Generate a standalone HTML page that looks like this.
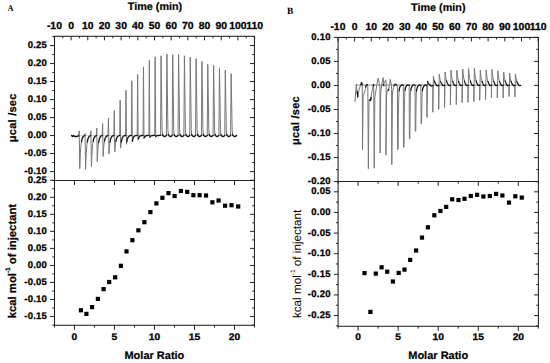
<!DOCTYPE html>
<html><head><meta charset="utf-8"><style>
html,body{margin:0;padding:0;background:#fff;width:550px;height:363px;overflow:hidden}
svg{display:block;text-rendering:geometricPrecision}
</style></head><body>
<svg width="550" height="363" viewBox="0 0 550 363" font-family='"Liberation Sans", sans-serif'>
<rect x="54.5" y="36.3" width="199.95" height="288.97999999999996" fill="none" stroke="#222" stroke-width="1.05"/>
<line x1="54.5" y1="180.44" x2="254.45" y2="180.44" stroke="#222" stroke-width="1.05"/>
<path d="M54.42 36.3v4 M62.76 36.3v2 M71.10 36.3v4 M79.44 36.3v2 M87.78 36.3v4 M96.12 36.3v2 M104.46 36.3v4 M112.80 36.3v2 M121.14 36.3v4 M129.48 36.3v2 M137.82 36.3v4 M146.16 36.3v2 M154.50 36.3v4 M162.84 36.3v2 M171.18 36.3v4 M179.52 36.3v2 M187.86 36.3v4 M196.20 36.3v2 M204.54 36.3v4 M212.88 36.3v2 M221.22 36.3v4 M229.56 36.3v2 M237.90 36.3v4 M246.24 36.3v2 M254.58 36.3v4 M54.5 180.56h-2.2 M254.45 180.56h-2.2 M54.5 171.56h-4.3 M254.45 171.56h-4.3 M54.5 162.56h-2.2 M254.45 162.56h-2.2 M54.5 153.56h-4.3 M254.45 153.56h-4.3 M54.5 144.56h-2.2 M254.45 144.56h-2.2 M54.5 135.56h-4.3 M254.45 135.56h-4.3 M54.5 126.56h-2.2 M254.45 126.56h-2.2 M54.5 117.56h-4.3 M254.45 117.56h-4.3 M54.5 108.56h-2.2 M254.45 108.56h-2.2 M54.5 99.56h-4.3 M254.45 99.56h-4.3 M54.5 90.56h-2.2 M254.45 90.56h-2.2 M54.5 81.56h-4.3 M254.45 81.56h-4.3 M54.5 72.56h-2.2 M254.45 72.56h-2.2 M54.5 63.56h-4.3 M254.45 63.56h-4.3 M54.5 54.56h-2.2 M254.45 54.56h-2.2 M54.5 45.56h-4.3 M254.45 45.56h-4.3 M54.5 36.56h-2.2 M254.45 36.56h-2.2 M54.5 325.08h-2.2 M254.45 325.08h-2.2 M54.5 316.56h-4.3 M254.45 316.56h-4.3 M54.5 308.04h-2.2 M254.45 308.04h-2.2 M54.5 299.52h-4.3 M254.45 299.52h-4.3 M54.5 291.00h-2.2 M254.45 291.00h-2.2 M54.5 282.48h-4.3 M254.45 282.48h-4.3 M54.5 273.96h-2.2 M254.45 273.96h-2.2 M54.5 265.44h-4.3 M254.45 265.44h-4.3 M54.5 256.92h-2.2 M254.45 256.92h-2.2 M54.5 248.40h-4.3 M254.45 248.40h-4.3 M54.5 239.88h-2.2 M254.45 239.88h-2.2 M54.5 231.36h-4.3 M254.45 231.36h-4.3 M54.5 222.84h-2.2 M254.45 222.84h-2.2 M54.5 214.32h-4.3 M254.45 214.32h-4.3 M54.5 205.80h-2.2 M254.45 205.80h-2.2 M54.5 197.28h-4.3 M254.45 197.28h-4.3 M54.5 188.76h-2.2 M254.45 188.76h-2.2 M54.5 180.24h-4.3 M254.45 180.24h-4.3 M54.42 325.28v2.3 M54.42 180.44v2.3 M74.43 325.28v4.5 M74.43 180.44v4.5 M94.44 325.28v2.3 M94.44 180.44v2.3 M114.46 325.28v4.5 M114.46 180.44v4.5 M134.47 325.28v2.3 M134.47 180.44v2.3 M154.48 325.28v4.5 M154.48 180.44v4.5 M174.49 325.28v2.3 M174.49 180.44v2.3 M194.51 325.28v4.5 M194.51 180.44v4.5 M214.52 325.28v2.3 M214.52 180.44v2.3 M234.53 325.28v4.5 M234.53 180.44v4.5 M254.54 325.28v2.3 M254.54 180.44v2.3" stroke="#222" stroke-width="1" fill="none"/>
<g font-size="10.4" font-weight="bold" fill="#000" stroke="#000" stroke-width="0.3"><text transform="translate(54.42 29.4) scale(1.02 1)" font-size="10.2" text-anchor="middle">-10</text><text transform="translate(71.10 29.4) scale(1.02 1)" font-size="10.2" text-anchor="middle">0</text><text transform="translate(87.78 29.4) scale(1.02 1)" font-size="10.2" text-anchor="middle">10</text><text transform="translate(104.46 29.4) scale(1.02 1)" font-size="10.2" text-anchor="middle">20</text><text transform="translate(121.14 29.4) scale(1.02 1)" font-size="10.2" text-anchor="middle">30</text><text transform="translate(137.82 29.4) scale(1.02 1)" font-size="10.2" text-anchor="middle">40</text><text transform="translate(154.50 29.4) scale(1.02 1)" font-size="10.2" text-anchor="middle">50</text><text transform="translate(171.18 29.4) scale(1.02 1)" font-size="10.2" text-anchor="middle">60</text><text transform="translate(187.86 29.4) scale(1.02 1)" font-size="10.2" text-anchor="middle">70</text><text transform="translate(204.54 29.4) scale(1.02 1)" font-size="10.2" text-anchor="middle">80</text><text transform="translate(221.22 29.4) scale(1.02 1)" font-size="10.2" text-anchor="middle">90</text><text transform="translate(237.90 29.4) scale(1.02 1)" font-size="10.2" text-anchor="middle">100</text><text transform="translate(254.58 29.4) scale(1.02 1)" font-size="10.2" text-anchor="middle">110</text><text transform="translate(47.15 174.06) scale(1.0 1)" font-size="9.5" letter-spacing="0.25" text-anchor="end">-0.10</text><text transform="translate(47.15 156.06) scale(1.0 1)" font-size="9.5" letter-spacing="0.25" text-anchor="end">-0.05</text><text transform="translate(47.15 138.06) scale(1.0 1)" font-size="9.5" letter-spacing="0.25" text-anchor="end">0.00</text><text transform="translate(47.15 120.06) scale(1.0 1)" font-size="9.5" letter-spacing="0.25" text-anchor="end">0.05</text><text transform="translate(47.15 102.06) scale(1.0 1)" font-size="9.5" letter-spacing="0.25" text-anchor="end">0.10</text><text transform="translate(47.15 84.06) scale(1.0 1)" font-size="9.5" letter-spacing="0.25" text-anchor="end">0.15</text><text transform="translate(47.15 66.06) scale(1.0 1)" font-size="9.5" letter-spacing="0.25" text-anchor="end">0.20</text><text transform="translate(47.15 48.06) scale(1.0 1)" font-size="9.5" letter-spacing="0.25" text-anchor="end">0.25</text><text transform="translate(47.15 319.06) scale(1.0 1)" font-size="9.5" letter-spacing="0.25" text-anchor="end">-0.15</text><text transform="translate(47.15 302.02) scale(1.0 1)" font-size="9.5" letter-spacing="0.25" text-anchor="end">-0.10</text><text transform="translate(47.15 284.98) scale(1.0 1)" font-size="9.5" letter-spacing="0.25" text-anchor="end">-0.05</text><text transform="translate(47.15 267.94) scale(1.0 1)" font-size="9.5" letter-spacing="0.25" text-anchor="end">0.00</text><text transform="translate(47.15 250.90) scale(1.0 1)" font-size="9.5" letter-spacing="0.25" text-anchor="end">0.05</text><text transform="translate(47.15 233.86) scale(1.0 1)" font-size="9.5" letter-spacing="0.25" text-anchor="end">0.10</text><text transform="translate(47.15 216.82) scale(1.0 1)" font-size="9.5" letter-spacing="0.25" text-anchor="end">0.15</text><text transform="translate(47.15 199.78) scale(1.0 1)" font-size="9.5" letter-spacing="0.25" text-anchor="end">0.20</text><text transform="translate(47.15 182.74) scale(1.0 1)" font-size="9.5" letter-spacing="0.25" text-anchor="end">0.25</text><text transform="translate(74.43 340.1) scale(1.065 1)" font-size="9.6" text-anchor="middle">0</text><text transform="translate(114.46 340.1) scale(1.065 1)" font-size="9.6" text-anchor="middle">5</text><text transform="translate(154.48 340.1) scale(1.065 1)" font-size="9.6" text-anchor="middle">10</text><text transform="translate(194.51 340.1) scale(1.065 1)" font-size="9.6" text-anchor="middle">15</text><text transform="translate(234.53 340.1) scale(1.065 1)" font-size="9.6" text-anchor="middle">20</text></g>
<rect x="338.1" y="37.45" width="200.29999999999995" height="288.83" fill="none" stroke="#222" stroke-width="1.05"/>
<line x1="338.1" y1="181.44" x2="538.4" y2="181.44" stroke="#222" stroke-width="1.05"/>
<path d="M337.91 37.45v4 M346.25 37.45v2 M354.60 37.45v4 M362.95 37.45v2 M371.29 37.45v4 M379.64 37.45v2 M387.98 37.45v4 M396.33 37.45v2 M404.67 37.45v4 M413.02 37.45v2 M421.36 37.45v4 M429.71 37.45v2 M438.05 37.45v4 M446.40 37.45v2 M454.74 37.45v4 M463.09 37.45v2 M471.43 37.45v4 M479.78 37.45v2 M488.12 37.45v4 M496.47 37.45v2 M504.81 37.45v4 M513.15 37.45v2 M521.50 37.45v4 M529.85 37.45v2 M538.19 37.45v4 M338.1 181.60h-4.3 M538.4 181.60h-4.3 M338.1 169.58h-2.2 M538.4 169.58h-2.2 M338.1 157.56h-4.3 M538.4 157.56h-4.3 M338.1 145.54h-2.2 M538.4 145.54h-2.2 M338.1 133.52h-4.3 M538.4 133.52h-4.3 M338.1 121.50h-2.2 M538.4 121.50h-2.2 M338.1 109.48h-4.3 M538.4 109.48h-4.3 M338.1 97.46h-2.2 M538.4 97.46h-2.2 M338.1 85.44h-4.3 M538.4 85.44h-4.3 M338.1 73.42h-2.2 M538.4 73.42h-2.2 M338.1 61.40h-4.3 M538.4 61.40h-4.3 M338.1 49.38h-2.2 M538.4 49.38h-2.2 M338.1 37.36h-4.3 M538.4 37.36h-4.3 M338.1 325.85h-2.2 M538.4 325.85h-2.2 M338.1 315.54h-4.3 M538.4 315.54h-4.3 M338.1 305.23h-2.2 M538.4 305.23h-2.2 M338.1 294.92h-4.3 M538.4 294.92h-4.3 M338.1 284.61h-2.2 M538.4 284.61h-2.2 M338.1 274.30h-4.3 M538.4 274.30h-4.3 M338.1 263.99h-2.2 M538.4 263.99h-2.2 M338.1 253.68h-4.3 M538.4 253.68h-4.3 M338.1 243.37h-2.2 M538.4 243.37h-2.2 M338.1 233.06h-4.3 M538.4 233.06h-4.3 M338.1 222.75h-2.2 M538.4 222.75h-2.2 M338.1 212.44h-4.3 M538.4 212.44h-4.3 M338.1 202.13h-2.2 M538.4 202.13h-2.2 M338.1 191.82h-4.3 M538.4 191.82h-4.3 M338.1 181.51h-2.2 M538.4 181.51h-2.2 M338.08 326.28v2.3 M338.08 181.44v2.3 M358.10 326.28v4.5 M358.10 181.44v4.5 M378.12 326.28v2.3 M378.12 181.44v2.3 M398.15 326.28v4.5 M398.15 181.44v4.5 M418.18 326.28v2.3 M418.18 181.44v2.3 M438.20 326.28v4.5 M438.20 181.44v4.5 M458.23 326.28v2.3 M458.23 181.44v2.3 M478.25 326.28v4.5 M478.25 181.44v4.5 M498.27 326.28v2.3 M498.27 181.44v2.3 M518.30 326.28v4.5 M518.30 181.44v4.5 M538.33 326.28v2.3 M538.33 181.44v2.3" stroke="#222" stroke-width="1" fill="none"/>
<g font-size="10.4" font-weight="bold" fill="#000" stroke="#000" stroke-width="0.3"><text transform="translate(337.91 30.4) scale(1.02 1)" font-size="10.2" text-anchor="middle">-10</text><text transform="translate(354.60 30.4) scale(1.02 1)" font-size="10.2" text-anchor="middle">0</text><text transform="translate(371.29 30.4) scale(1.02 1)" font-size="10.2" text-anchor="middle">10</text><text transform="translate(387.98 30.4) scale(1.02 1)" font-size="10.2" text-anchor="middle">20</text><text transform="translate(404.67 30.4) scale(1.02 1)" font-size="10.2" text-anchor="middle">30</text><text transform="translate(421.36 30.4) scale(1.02 1)" font-size="10.2" text-anchor="middle">40</text><text transform="translate(438.05 30.4) scale(1.02 1)" font-size="10.2" text-anchor="middle">50</text><text transform="translate(454.74 30.4) scale(1.02 1)" font-size="10.2" text-anchor="middle">60</text><text transform="translate(471.43 30.4) scale(1.02 1)" font-size="10.2" text-anchor="middle">70</text><text transform="translate(488.12 30.4) scale(1.02 1)" font-size="10.2" text-anchor="middle">80</text><text transform="translate(504.81 30.4) scale(1.02 1)" font-size="10.2" text-anchor="middle">90</text><text transform="translate(521.50 30.4) scale(1.02 1)" font-size="10.2" text-anchor="middle">100</text><text transform="translate(538.19 30.4) scale(1.02 1)" font-size="10.2" text-anchor="middle">110</text><text transform="translate(330.75 184.10) scale(1.0 1)" font-size="9.5" letter-spacing="0.25" text-anchor="end">-0.20</text><text transform="translate(330.75 160.06) scale(1.0 1)" font-size="9.5" letter-spacing="0.25" text-anchor="end">-0.15</text><text transform="translate(330.75 136.02) scale(1.0 1)" font-size="9.5" letter-spacing="0.25" text-anchor="end">-0.10</text><text transform="translate(330.75 111.98) scale(1.0 1)" font-size="9.5" letter-spacing="0.25" text-anchor="end">-0.05</text><text transform="translate(330.75 87.94) scale(1.0 1)" font-size="9.5" letter-spacing="0.25" text-anchor="end">0.00</text><text transform="translate(330.75 63.90) scale(1.0 1)" font-size="9.5" letter-spacing="0.25" text-anchor="end">0.05</text><text transform="translate(330.75 39.86) scale(1.0 1)" font-size="9.5" letter-spacing="0.25" text-anchor="end">0.10</text><text transform="translate(330.75 318.04) scale(1.0 1)" font-size="9.5" letter-spacing="0.25" text-anchor="end">-0.25</text><text transform="translate(330.75 297.42) scale(1.0 1)" font-size="9.5" letter-spacing="0.25" text-anchor="end">-0.20</text><text transform="translate(330.75 276.80) scale(1.0 1)" font-size="9.5" letter-spacing="0.25" text-anchor="end">-0.15</text><text transform="translate(330.75 256.18) scale(1.0 1)" font-size="9.5" letter-spacing="0.25" text-anchor="end">-0.10</text><text transform="translate(330.75 235.56) scale(1.0 1)" font-size="9.5" letter-spacing="0.25" text-anchor="end">-0.05</text><text transform="translate(330.75 214.94) scale(1.0 1)" font-size="9.5" letter-spacing="0.25" text-anchor="end">0.00</text><text transform="translate(330.75 194.32) scale(1.0 1)" font-size="9.5" letter-spacing="0.25" text-anchor="end">0.05</text><text transform="translate(358.10 340.1) scale(1.065 1)" font-size="9.6" text-anchor="middle">0</text><text transform="translate(398.15 340.1) scale(1.065 1)" font-size="9.6" text-anchor="middle">5</text><text transform="translate(438.20 340.1) scale(1.065 1)" font-size="9.6" text-anchor="middle">10</text><text transform="translate(478.25 340.1) scale(1.065 1)" font-size="9.6" text-anchor="middle">15</text><text transform="translate(518.30 340.1) scale(1.065 1)" font-size="9.6" text-anchor="middle">20</text></g>
<line x1="71.5" y1="135.3" x2="236.5" y2="135.3" stroke="#aaa" stroke-width="0.6"/><path d="M78.60 135.80 L79.25 130.80 L79.75 168.70 L80.10 159.26 L80.45 152.50 L80.80 147.65 L81.15 144.18 L81.50 141.69 M84.65 135.71 L85.09 133.40 L85.59 169.40 L85.94 159.76 L86.29 152.86 L86.64 147.91 L86.99 144.36 L87.34 141.82 M90.49 135.72 L90.93 130.80 L91.43 166.60 L91.78 157.76 L92.13 151.42 L92.48 146.88 L92.83 143.62 L93.18 141.29 M96.33 135.69 L96.77 128.10 L97.27 161.70 L97.62 154.24 L97.97 148.90 L98.32 145.08 L98.67 142.33 M102.17 135.65 L102.61 123.50 L103.11 156.40 L103.46 150.45 L103.81 146.18 L104.16 143.13 L104.51 140.94 M108.01 135.60 L108.45 118.10 L108.95 153.80 L109.30 148.58 L109.65 144.85 L110.00 142.17 M113.85 135.57 L114.29 110.50 L114.79 151.80 L115.14 147.15 L115.49 143.82 L115.84 141.43 M119.69 135.55 L120.13 100.20 L120.63 148.10 L120.98 144.50 L121.33 141.92 M125.53 135.52 L125.97 90.30 L126.47 144.20 L126.82 141.71 M131.37 135.48 L131.81 80.80 L132.31 141.40 M137.21 135.46 L137.65 74.50 L138.15 139.20 M143.05 135.44 L143.49 66.80 L143.99 138.00 M148.89 135.42 L149.33 60.40 L149.83 137.10 M154.73 135.42 L155.17 56.90 L155.67 136.60 M160.57 135.41 L161.06 55.80 L162.06 129.40 L162.46 134.40 M166.36 135.40 L166.90 54.00 L167.90 129.40 L168.30 134.40 M172.20 135.40 L172.74 54.70 L173.74 129.40 L174.14 134.40 M178.04 135.40 L178.58 54.40 L179.58 129.40 L179.98 134.40 M183.88 135.40 L184.42 55.80 L185.42 129.40 L185.82 134.40 M189.72 135.40 L190.26 57.10 L191.26 129.40 L191.66 134.40 M195.56 135.40 L196.10 58.70 L197.10 129.40 L197.50 134.40 M201.40 135.40 L201.94 61.50 L202.94 129.40 L203.34 134.40 M207.24 135.40 L207.78 64.30 L208.78 129.40 L209.18 134.40 M213.08 135.40 L213.62 65.40 L214.62 129.40 L215.02 134.40 M218.92 135.40 L219.46 68.40 L220.46 129.40 L220.86 134.40 M224.76 135.40 L225.30 70.00 L226.30 129.40 L226.70 134.40 M230.60 135.40 L231.14 73.60 L232.14 129.40 L232.54 134.40" fill="none" stroke="#777" stroke-width="1.0" stroke-linejoin="round"/><path d="M71.60 135.40 L72.40 136.60 L73.30 135.70 L74.30 136.10 L75.50 136.70 L76.60 136.50 L77.80 136.20 L78.60 135.80 M71.80 135.60 L72.40 136.40 L73.30 135.90 L74.30 136.30 L75.50 136.50 L76.60 136.60 L77.80 136.30 L78.40 136.00 M81.50 141.69 L81.85 139.91 L82.20 138.63 L82.55 137.71 L82.90 137.06 L83.25 136.59 L83.60 136.25 L83.95 136.01 L84.30 135.84 L84.65 135.71 M87.34 141.82 L87.69 140.00 L88.04 138.70 L88.39 137.76 L88.74 137.09 L89.09 136.61 L89.44 136.27 L89.79 136.02 L90.14 135.85 L90.49 135.72 M93.18 141.29 L93.53 139.62 L93.88 138.43 L94.23 137.57 L94.58 136.95 L94.93 136.51 L95.28 136.20 L95.63 135.97 L95.98 135.81 L96.33 135.69 M98.67 142.33 L99.02 140.37 L99.37 138.96 L99.72 137.95 L100.07 137.23 L100.42 136.71 L100.77 136.34 L101.12 136.07 L101.47 135.88 L101.82 135.75 L102.17 135.65 M104.51 140.94 L104.86 139.37 L105.21 138.24 L105.56 137.44 L105.91 136.86 L106.26 136.45 L106.61 136.15 L106.96 135.94 L107.31 135.78 L107.66 135.68 L108.01 135.60 M110.00 142.17 L110.35 140.25 L110.70 138.88 L111.05 137.89 L111.40 137.18 L111.75 136.68 L112.10 136.32 L112.45 136.06 L112.80 135.87 L113.15 135.74 L113.50 135.64 L113.85 135.57 M115.84 141.43 L116.19 139.72 L116.54 138.50 L116.89 137.62 L117.24 136.99 L117.59 136.54 L117.94 136.22 L118.29 135.99 L118.64 135.82 L118.99 135.70 L119.34 135.62 L119.69 135.55 M121.33 141.92 L121.68 140.07 L122.03 138.75 L122.38 137.80 L122.73 137.12 L123.08 136.63 L123.43 136.28 L123.78 136.03 L124.13 135.85 L124.48 135.72 L124.83 135.63 L125.18 135.57 L125.53 135.52 M126.82 141.71 L127.17 139.92 L127.52 138.64 L127.87 137.72 L128.22 137.06 L128.57 136.59 L128.92 136.25 L129.27 136.01 L129.62 135.84 L129.97 135.71 L130.32 135.62 L130.67 135.56 L131.02 135.52 L131.37 135.48 M132.31 141.40 L132.66 139.70 L133.01 138.48 L133.36 137.61 L133.71 136.98 L134.06 136.53 L134.41 136.21 L134.76 135.98 L135.11 135.82 L135.46 135.70 L135.81 135.61 L136.16 135.55 L136.51 135.51 L136.86 135.48 L137.21 135.46 M138.15 139.20 L138.50 138.12 L138.85 137.35 L139.20 136.80 L139.55 136.40 L139.90 136.12 L140.25 135.91 L140.60 135.77 L140.95 135.66 L141.30 135.59 L141.65 135.54 L142.00 135.50 L142.35 135.47 L142.70 135.45 L143.05 135.44 M143.99 138.00 L144.34 137.26 L144.69 136.73 L145.04 136.36 L145.39 136.09 L145.74 135.89 L146.09 135.75 L146.44 135.65 L146.79 135.58 L147.14 135.53 L147.49 135.49 L147.84 135.47 L148.19 135.45 L148.54 135.43 L148.89 135.42 M149.83 137.10 L150.18 136.62 L150.53 136.27 L150.88 136.03 L151.23 135.85 L151.58 135.72 L151.93 135.63 L152.28 135.56 L152.63 135.52 L152.98 135.48 L153.33 135.46 L153.68 135.44 L154.03 135.43 L154.38 135.42 L154.73 135.42 M155.67 136.60 L156.02 136.26 L156.37 136.02 L156.72 135.84 L157.07 135.72 L157.42 135.63 L157.77 135.56 L158.12 135.52 L158.47 135.48 L158.82 135.46 L159.17 135.44 L159.52 135.43 L159.87 135.42 L160.22 135.42 L160.57 135.41 M162.36 134.40 L162.86 135.50 L163.66 136.20 L164.46 136.60 L165.26 136.40 L165.96 135.80 L166.36 135.40 M168.20 134.40 L168.70 135.50 L169.50 136.20 L170.30 136.60 L171.10 136.40 L171.80 135.80 L172.20 135.40 M174.04 134.40 L174.54 135.50 L175.34 136.20 L176.14 136.60 L176.94 136.40 L177.64 135.80 L178.04 135.40 M179.88 134.40 L180.38 135.50 L181.18 136.20 L181.98 136.60 L182.78 136.40 L183.48 135.80 L183.88 135.40 M185.72 134.40 L186.22 135.50 L187.02 136.20 L187.82 136.60 L188.62 136.40 L189.32 135.80 L189.72 135.40 M191.56 134.40 L192.06 135.50 L192.86 136.20 L193.66 136.60 L194.46 136.40 L195.16 135.80 L195.56 135.40 M197.40 134.40 L197.90 135.50 L198.70 136.20 L199.50 136.60 L200.30 136.40 L201.00 135.80 L201.40 135.40 M203.24 134.40 L203.74 135.50 L204.54 136.20 L205.34 136.60 L206.14 136.40 L206.84 135.80 L207.24 135.40 M209.08 134.40 L209.58 135.50 L210.38 136.20 L211.18 136.60 L211.98 136.40 L212.68 135.80 L213.08 135.40 M214.92 134.40 L215.42 135.50 L216.22 136.20 L217.02 136.60 L217.82 136.40 L218.52 135.80 L218.92 135.40 M220.76 134.40 L221.26 135.50 L222.06 136.20 L222.86 136.60 L223.66 136.40 L224.36 135.80 L224.76 135.40 M226.60 134.40 L227.10 135.50 L227.90 136.20 L228.70 136.60 L229.50 136.40 L230.20 135.80 L230.60 135.40 M232.44 134.40 L232.94 135.50 L233.74 136.20 L234.54 136.60 L235.34 136.40 L236.04 135.80 L236.44 135.40 M236.44 135.40 L236.60 135.70" fill="none" stroke="#141414" stroke-width="1.35" stroke-linejoin="round" stroke-linecap="round"/>
<line x1="355.3" y1="85.10000000000001" x2="519" y2="85.10000000000001" stroke="#555" stroke-width="0.7"/><path d="M355.00 102.00 L355.60 93.00 L356.40 84.30 L357.00 92.00 L357.70 97.50 L358.40 93.00 L359.20 89.00 L360.50 85.40 L361.60 82.10 L362.30 86.00 M362.30 86.00 L362.50 150.00 L363.10 98.00 L363.20 95.00 L364.30 93.00 L365.50 88.50 L366.30 85.50 L367.00 84.30 L367.80 86.50 M367.80 86.50 L368.36 168.80 L368.96 102.00 L369.20 99.00 L370.40 100.60 L371.40 95.00 L372.50 88.50 L373.70 84.30 M373.70 84.30 L374.22 168.20 L374.82 99.00 L375.00 96.00 L376.20 89.00 L377.20 82.50 L378.10 78.30 L379.00 82.50 L379.90 86.00 M379.90 86.00 L380.08 153.00 L380.68 94.00 L380.90 91.00 L382.00 83.00 L383.00 77.50 L383.80 84.00 L384.90 81.50 L385.80 79.90 L386.20 83.00 M386.20 83.00 L385.94 155.20 L386.54 96.00 L386.70 93.00 L387.70 90.50 L388.50 90.20 L389.40 84.50 L390.20 79.40 L391.00 83.00 L391.60 86.00 M391.60 86.00 L391.80 164.70 L392.40 95.00 L392.60 92.00 L393.60 87.50 L394.50 84.80 L395.30 84.20 L396.40 84.90 L397.40 85.40 M397.40 85.40 L397.66 149.50 L398.16 149.50 L398.28 129.82 L398.40 116.49 L398.52 107.45 L398.64 101.28 L398.76 97.04 L398.88 94.12 L399.00 92.07 L399.12 90.63 M403.32 85.35 L403.52 147.30 L404.02 147.30 L404.14 128.34 L404.26 115.51 L404.38 106.78 L404.50 100.83 L404.62 96.75 L404.74 93.92 L404.86 91.94 L404.98 90.54 M409.18 85.35 L409.38 138.90 L409.88 138.90 L410.00 122.71 L410.12 111.73 L410.24 104.25 L410.36 99.14 L410.48 95.61 L410.60 93.15 L410.72 91.43 L410.84 90.20 M415.04 85.35 L415.24 131.20 L415.74 131.20 L415.86 117.55 L415.98 108.27 L416.10 101.94 L416.22 97.58 L416.34 94.57 L416.46 92.46 L416.58 90.96 M420.90 85.35 L421.10 123.80 L421.60 123.80 L421.72 112.59 L421.84 104.95 L421.96 99.71 L422.08 96.09 L422.20 93.57 L422.32 91.78 L422.44 90.51 M426.76 85.35 L426.96 117.40 L427.56 81.30 M432.81 85.44 L432.82 112.20 L433.42 76.00 L433.77 78.22 L434.12 79.91 L434.47 81.21 M438.67 85.34 L438.68 109.50 L439.28 74.10 L439.63 76.77 L439.98 78.80 L440.33 80.36 L440.68 81.55 M444.53 85.31 L444.54 107.50 L445.14 71.90 L445.49 75.09 L445.84 77.52 L446.19 79.38 L446.54 80.80 M450.39 85.27 L450.40 105.00 L451.00 70.10 L451.35 73.71 L451.70 76.47 L452.05 78.58 L452.40 80.19 L452.75 81.43 M456.25 85.24 L456.26 104.60 L456.86 70.10 L457.21 73.71 L457.56 76.47 L457.91 78.58 L458.26 80.19 L458.61 81.43 M462.11 85.24 L462.12 102.80 L462.72 69.00 L463.07 72.87 L463.42 75.83 L463.77 78.09 L464.12 79.82 L464.47 81.15 M467.97 85.22 L467.98 102.40 L468.58 68.60 L468.93 72.57 L469.28 75.59 L469.63 77.91 L469.98 79.68 L470.33 81.04 M473.83 85.21 L473.84 101.60 L474.44 68.30 L474.79 72.34 L475.14 75.42 L475.49 77.78 L475.84 79.58 L476.19 80.96 M479.69 85.21 L479.70 100.40 L480.30 70.10 L480.65 73.71 L481.00 76.47 L481.35 78.58 L481.70 80.19 L482.05 81.43 M485.55 85.24 L485.56 99.60 L486.16 69.90 L486.51 73.56 L486.86 76.35 L487.21 78.49 L487.56 80.12 L487.91 81.38 M491.41 85.24 L491.42 97.70 L492.02 69.40 L492.37 73.18 L492.72 76.06 L493.07 78.27 L493.42 79.95 L493.77 81.25 M497.27 85.23 L497.28 98.00 L497.88 70.80 L498.23 74.25 L498.58 76.88 L498.93 78.89 L499.28 80.43 L499.63 81.61 M503.13 85.25 L503.14 98.00 L503.74 72.10 L504.09 75.24 L504.44 77.64 L504.79 79.47 L505.14 80.87 M508.99 85.28 L509.00 96.50 L509.60 73.00 L509.95 75.93 L510.30 78.16 L510.65 79.87 L511.00 81.18 M514.85 85.29 L514.86 96.90 L515.46 73.80 L515.81 76.54 L516.16 78.63 L516.51 80.23 L516.86 81.45" fill="none" stroke="#777" stroke-width="1.0" stroke-linejoin="round"/><path d="M357.20 91.50 L357.70 96.50 M360.90 84.60 L361.60 82.60 L362.10 84.50 M365.80 86.80 L366.60 84.80 L367.30 84.60 M369.90 100.20 L370.60 100.60 L371.10 97.50 M373.10 86.00 L373.70 84.40 M383.20 84.60 L383.90 85.60 M388.00 90.30 L388.80 89.20 M394.20 85.60 L395.30 84.20 L396.30 84.80 M399.12 90.63 L399.24 89.59 L399.36 88.83 L399.48 88.26 L399.60 87.82 L399.72 87.48 L399.84 87.19 L399.96 86.95 L400.08 86.74 L400.20 86.55 L400.32 86.37 L400.44 86.20 L400.56 86.04 L400.68 85.88 L400.80 85.72 L400.92 85.57 L401.04 85.43 L401.16 85.30 L401.28 85.18 L401.40 85.07 L401.52 84.99 L401.64 84.92 L401.76 84.88 L401.88 84.85 L402.00 84.85 L402.12 84.86 L402.24 84.89 L402.36 84.94 L402.48 84.99 L402.60 85.05 L402.72 85.11 L402.84 85.16 L402.96 85.22 L403.08 85.27 L403.20 85.31 L403.32 85.35 M404.98 90.54 L405.10 89.53 L405.22 88.79 L405.34 88.24 L405.46 87.81 L405.58 87.47 L405.70 87.18 L405.82 86.95 L405.94 86.74 L406.06 86.55 L406.18 86.37 L406.30 86.20 L406.42 86.03 L406.54 85.88 L406.66 85.72 L406.78 85.57 L406.90 85.43 L407.02 85.30 L407.14 85.18 L407.26 85.07 L407.38 84.99 L407.50 84.92 L407.62 84.88 L407.74 84.85 L407.86 84.85 L407.98 84.86 L408.10 84.89 L408.22 84.94 L408.34 84.99 L408.46 85.05 L408.58 85.11 L408.70 85.16 L408.82 85.22 L408.94 85.27 L409.06 85.31 L409.18 85.35 M410.84 90.20 L410.96 89.30 L411.08 88.64 L411.20 88.13 L411.32 87.74 L411.44 87.42 L411.56 87.15 L411.68 86.93 L411.80 86.72 L411.92 86.54 L412.04 86.36 L412.16 86.19 L412.28 86.03 L412.40 85.87 L412.52 85.72 L412.64 85.57 L412.76 85.43 L412.88 85.30 L413.00 85.18 L413.12 85.07 L413.24 84.99 L413.36 84.92 L413.48 84.88 L413.60 84.85 L413.72 84.85 L413.84 84.86 L413.96 84.89 L414.08 84.94 L414.20 84.99 L414.32 85.05 L414.44 85.11 L414.56 85.16 L414.68 85.22 L414.80 85.27 L414.92 85.31 L415.04 85.35 M416.58 90.96 L416.70 89.88 L416.82 89.09 L416.94 88.50 L417.06 88.04 L417.18 87.67 L417.30 87.38 L417.42 87.13 L417.54 86.91 L417.66 86.71 L417.78 86.53 L417.90 86.36 L418.02 86.19 L418.14 86.03 L418.26 85.87 L418.38 85.72 L418.50 85.57 L418.62 85.43 L418.74 85.30 L418.86 85.18 L418.98 85.07 L419.10 84.99 L419.22 84.92 L419.34 84.88 L419.46 84.85 L419.58 84.85 L419.70 84.86 L419.82 84.89 L419.94 84.94 L420.06 84.99 L420.18 85.05 L420.30 85.11 L420.42 85.16 L420.54 85.22 L420.66 85.27 L420.78 85.31 L420.90 85.35 M422.44 90.51 L422.56 89.58 L422.68 88.89 L422.80 88.36 L422.92 87.95 L423.04 87.61 L423.16 87.34 L423.28 87.10 L423.40 86.89 L423.52 86.70 L423.64 86.52 L423.76 86.35 L423.88 86.19 L424.00 86.03 L424.12 85.87 L424.24 85.72 L424.36 85.57 L424.48 85.43 L424.60 85.30 L424.72 85.18 L424.84 85.07 L424.96 84.99 L425.08 84.92 L425.20 84.88 L425.32 84.85 L425.44 84.85 L425.56 84.86 L425.68 84.89 L425.80 84.94 L425.92 84.99 L426.04 85.05 L426.16 85.11 L426.28 85.16 L426.40 85.22 L426.52 85.27 L426.64 85.31 L426.76 85.35 M427.56 81.30 L427.91 82.27 L428.26 83.01 L428.61 83.57 L428.96 84.01 L429.31 84.35 L429.66 84.63 L430.01 84.92 L430.36 85.26 L430.71 85.63 L431.06 85.94 L431.41 86.09 L431.76 86.00 L432.11 85.79 L432.46 85.57 L432.81 85.44 M434.47 81.21 L434.82 82.20 L435.17 82.97 L435.52 83.58 L435.87 84.12 L436.22 84.64 L436.57 85.16 L436.92 85.59 L437.27 85.81 L437.62 85.80 L437.97 85.63 L438.32 85.45 L438.67 85.34 M440.68 81.55 L441.03 82.47 L441.38 83.20 L441.73 83.83 L442.08 84.42 L442.43 84.99 L442.78 85.46 L443.13 85.71 L443.48 85.72 L443.83 85.57 L444.18 85.41 L444.53 85.31 M446.54 80.80 L446.89 81.90 L447.24 82.77 L447.59 83.49 L447.94 84.16 L448.29 84.79 L448.64 85.31 L448.99 85.60 L449.34 85.63 L449.69 85.51 L450.04 85.36 L450.39 85.27 M452.75 81.43 L453.10 82.41 L453.45 83.22 L453.80 83.96 L454.15 84.63 L454.50 85.19 L454.85 85.51 L455.20 85.56 L455.55 85.45 L455.90 85.32 L456.25 85.24 M458.61 81.43 L458.96 82.41 L459.31 83.22 L459.66 83.96 L460.01 84.63 L460.36 85.19 L460.71 85.51 L461.06 85.56 L461.41 85.45 L461.76 85.32 L462.11 85.24 M464.47 81.15 L464.82 82.19 L465.17 83.05 L465.52 83.83 L465.87 84.54 L466.22 85.11 L466.57 85.45 L466.92 85.52 L467.27 85.42 L467.62 85.29 L467.97 85.22 M470.33 81.04 L470.68 82.11 L471.03 82.99 L471.38 83.78 L471.73 84.50 L472.08 85.08 L472.43 85.43 L472.78 85.50 L473.13 85.41 L473.48 85.28 L473.83 85.21 M476.19 80.96 L476.54 82.05 L476.89 82.95 L477.24 83.75 L477.59 84.47 L477.94 85.06 L478.29 85.41 L478.64 85.49 L478.99 85.40 L479.34 85.27 L479.69 85.21 M482.05 81.43 L482.40 82.41 L482.75 83.22 L483.10 83.96 L483.45 84.63 L483.80 85.19 L484.15 85.51 L484.50 85.56 L484.85 85.45 L485.20 85.32 L485.55 85.24 M487.91 81.38 L488.26 82.37 L488.61 83.19 L488.96 83.93 L489.31 84.62 L489.66 85.17 L490.01 85.50 L490.36 85.55 L490.71 85.44 L491.06 85.31 L491.41 85.24 M493.77 81.25 L494.12 82.27 L494.47 83.12 L494.82 83.87 L495.17 84.57 L495.52 85.14 L495.87 85.47 L496.22 85.53 L496.57 85.43 L496.92 85.30 L497.27 85.23 M499.63 81.61 L499.98 82.55 L500.33 83.33 L500.68 84.04 L501.03 84.70 L501.38 85.23 L501.73 85.54 L502.08 85.59 L502.43 85.47 L502.78 85.33 L503.13 85.25 M505.14 80.87 L505.49 81.95 L505.84 82.81 L506.19 83.53 L506.54 84.19 L506.89 84.81 L507.24 85.32 L507.59 85.61 L507.94 85.64 L508.29 85.51 L508.64 85.36 L508.99 85.28 M511.00 81.18 L511.35 82.19 L511.70 82.98 L512.05 83.66 L512.40 84.29 L512.75 84.89 L513.10 85.38 L513.45 85.66 L513.80 85.68 L514.15 85.54 L514.50 85.38 L514.85 85.29 M516.86 81.45 L517.21 82.39 L517.56 83.14 L517.91 83.78 L518.26 84.39 L518.61 84.96 L518.96 85.44 L519.31 85.70 L519.66 85.71 L520.01 85.56 L520.36 85.40 L520.71 85.31 M520.71 85.31 L519.80 85.60" fill="none" stroke="#141414" stroke-width="1.3" stroke-linejoin="round" stroke-linecap="round"/>
<g fill="#000"><rect x="78.80" y="308.20" width="4.2" height="4.2"/><rect x="84.30" y="311.80" width="4.2" height="4.2"/><rect x="90.00" y="305.00" width="4.2" height="4.2"/><rect x="95.80" y="296.80" width="4.2" height="4.2"/><rect x="101.50" y="287.00" width="4.2" height="4.2"/><rect x="107.10" y="279.90" width="4.2" height="4.2"/><rect x="113.10" y="275.20" width="4.2" height="4.2"/><rect x="118.80" y="263.70" width="4.2" height="4.2"/><rect x="124.40" y="249.30" width="4.2" height="4.2"/><rect x="130.30" y="238.10" width="4.2" height="4.2"/><rect x="136.30" y="228.20" width="4.2" height="4.2"/><rect x="142.30" y="220.10" width="4.2" height="4.2"/><rect x="148.30" y="210.00" width="4.2" height="4.2"/><rect x="154.30" y="201.30" width="4.2" height="4.2"/><rect x="160.30" y="195.70" width="4.2" height="4.2"/><rect x="166.40" y="191.00" width="4.2" height="4.2"/><rect x="172.50" y="193.90" width="4.2" height="4.2"/><rect x="178.80" y="188.90" width="4.2" height="4.2"/><rect x="185.10" y="189.80" width="4.2" height="4.2"/><rect x="191.30" y="193.10" width="4.2" height="4.2"/><rect x="197.50" y="193.10" width="4.2" height="4.2"/><rect x="203.90" y="193.40" width="4.2" height="4.2"/><rect x="210.30" y="200.20" width="4.2" height="4.2"/><rect x="216.50" y="198.40" width="4.2" height="4.2"/><rect x="223.00" y="203.60" width="4.2" height="4.2"/><rect x="229.40" y="203.10" width="4.2" height="4.2"/><rect x="236.10" y="204.40" width="4.2" height="4.2"/><rect x="362.40" y="271.00" width="4.2" height="4.2"/><rect x="368.30" y="309.80" width="4.2" height="4.2"/><rect x="373.70" y="271.50" width="4.2" height="4.2"/><rect x="379.50" y="265.20" width="4.2" height="4.2"/><rect x="385.10" y="269.60" width="4.2" height="4.2"/><rect x="390.80" y="279.40" width="4.2" height="4.2"/><rect x="396.60" y="270.80" width="4.2" height="4.2"/><rect x="402.40" y="267.50" width="4.2" height="4.2"/><rect x="408.10" y="257.80" width="4.2" height="4.2"/><rect x="414.00" y="248.40" width="4.2" height="4.2"/><rect x="419.90" y="235.50" width="4.2" height="4.2"/><rect x="425.80" y="225.20" width="4.2" height="4.2"/><rect x="432.20" y="213.20" width="4.2" height="4.2"/><rect x="438.30" y="208.90" width="4.2" height="4.2"/><rect x="444.10" y="204.80" width="4.2" height="4.2"/><rect x="450.10" y="197.20" width="4.2" height="4.2"/><rect x="456.40" y="197.90" width="4.2" height="4.2"/><rect x="462.40" y="196.70" width="4.2" height="4.2"/><rect x="468.70" y="193.90" width="4.2" height="4.2"/><rect x="475.00" y="192.70" width="4.2" height="4.2"/><rect x="481.30" y="194.40" width="4.2" height="4.2"/><rect x="487.70" y="193.90" width="4.2" height="4.2"/><rect x="494.00" y="191.80" width="4.2" height="4.2"/><rect x="500.30" y="193.40" width="4.2" height="4.2"/><rect x="506.90" y="200.50" width="4.2" height="4.2"/><rect x="513.20" y="194.20" width="4.2" height="4.2"/><rect x="519.70" y="195.50" width="4.2" height="4.2"/></g>
<g font-size="11" font-weight="bold" fill="#000" stroke="#000" stroke-width="0.2"><text x="155.0" y="10.3" text-anchor="middle" font-size="10.8">Time (min)</text><text x="438.3" y="10.8" text-anchor="middle" font-size="10.8">Time (min)</text><text x="154.4" y="358.9" text-anchor="middle">Molar Ratio</text><text x="438.2" y="358.9" text-anchor="middle">Molar Ratio</text><text transform="translate(16.1 117.8) rotate(-90)" text-anchor="middle" letter-spacing="0.25">μcal /sec</text><text transform="translate(298.5 120.5) rotate(-90)" text-anchor="middle" letter-spacing="0.25">μcal /sec</text><text transform="translate(16.1 261.1) rotate(-90)" text-anchor="middle" font-size="11.3">kcal mol<tspan font-size="6.5" dy="-6.3">-1</tspan><tspan dy="6.3"> of injectant</tspan></text></g>
<text transform="translate(300.8 263.9) rotate(-90)" text-anchor="middle" font-size="11.7" fill="#000">kcal mol<tspan font-size="6.5" dy="-6.3">-1</tspan><tspan dy="6.3"> of injectant</tspan></text>
<g font-family='"Liberation Serif", serif' font-weight="bold" fill="#000"><text transform="translate(7.7 11.3) scale(0.9 1)" font-size="8.8">A</text><text x="287.1" y="13.85" font-size="9.5">B</text></g>
</svg>
</body></html>
